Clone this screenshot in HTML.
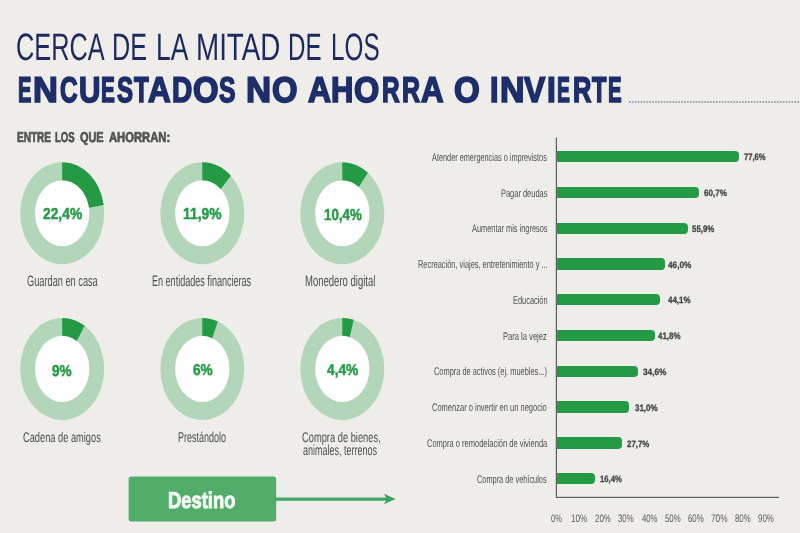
<!DOCTYPE html>
<html lang="es"><head><meta charset="utf-8"><title>Ahorro e inversión</title>
<style>
html,body{margin:0;padding:0}
body{width:800px;height:533px;overflow:hidden;background:#eeede9;font-family:"Liberation Sans",sans-serif;position:relative}
.t{position:absolute;white-space:nowrap;line-height:1;transform-origin:0 0;display:block;text-rendering:geometricPrecision}
#txt{position:absolute;left:0;top:0;width:800px;height:533px;will-change:transform}
.bar{position:absolute;left:556.5px;height:11.4px;background:#259a45;border-radius:0 4px 4px 0}
svg{position:absolute;left:0;top:0}
</style></head><body>
<svg width="800" height="533" viewBox="0 0 800 533">
<line x1="629" y1="102" x2="800" y2="102" stroke="#8388ad" stroke-width="1.7" stroke-dasharray="1.7 1.2"/>
<g transform="translate(62.2,213.2) scale(1,1.2143)"><circle r="42.0" fill="#b3d5b9"/><circle r="27.2" fill="#fdfefd"/><path d="M0.00,-42.00 A42.0,42.0 0 0 1 41.44,-6.83 L26.84,-4.42 A27.2,27.2 0 0 0 0.00,-27.20 Z" fill="#259a45"/></g>
<g transform="translate(202.3,213.2) scale(1,1.2143)"><circle r="42.0" fill="#b3d5b9"/><circle r="27.2" fill="#fdfefd"/><path d="M0.00,-42.00 A42.0,42.0 0 0 1 28.56,-30.80 L18.49,-19.94 A27.2,27.2 0 0 0 0.00,-27.20 Z" fill="#259a45"/></g>
<g transform="translate(342.3,213.2) scale(1,1.2143)"><circle r="42.0" fill="#b3d5b9"/><circle r="27.2" fill="#fdfefd"/><path d="M0.00,-42.00 A42.0,42.0 0 0 1 25.53,-33.35 L16.54,-21.60 A27.2,27.2 0 0 0 0.00,-27.20 Z" fill="#259a45"/></g>
<g transform="translate(62.2,368.9) scale(1,1.2143)"><circle r="42.0" fill="#b3d5b9"/><circle r="27.2" fill="#fdfefd"/><path d="M0.00,-42.00 A42.0,42.0 0 0 1 22.50,-35.46 L14.57,-22.97 A27.2,27.2 0 0 0 0.00,-27.20 Z" fill="#259a45"/></g>
<g transform="translate(202.3,368.9) scale(1,1.2143)"><circle r="42.0" fill="#b3d5b9"/><circle r="27.2" fill="#fdfefd"/><path d="M0.00,-42.00 A42.0,42.0 0 0 1 15.46,-39.05 L10.01,-25.29 A27.2,27.2 0 0 0 0.00,-27.20 Z" fill="#259a45"/></g>
<g transform="translate(342.3,368.9) scale(1,1.2143)"><circle r="42.0" fill="#b3d5b9"/><circle r="27.2" fill="#fdfefd"/><path d="M0.00,-42.00 A42.0,42.0 0 0 1 11.46,-40.41 L7.42,-26.17 A27.2,27.2 0 0 0 0.00,-27.20 Z" fill="#259a45"/></g>
<rect x="128.6" y="476.4" width="147.6" height="45.2" rx="3.2" fill="#53ad6a"/>
<rect x="275" y="497.5" width="112" height="3.3" fill="#45a763"/>
<path d="M384,493.8 L395.5,499 L384,504.3 L386.8,499 Z" fill="#3ba25c"/>
<path d="M556.4,137.5 V497.4 H779" fill="none" stroke="#626260" stroke-width="1.25"/>
</svg>
<div class="bar" style="top:150.95px;width:182.4px"></div>
<div class="bar" style="top:186.73px;width:142.6px"></div>
<div class="bar" style="top:222.51px;width:131.4px"></div>
<div class="bar" style="top:258.29px;width:108.1px"></div>
<div class="bar" style="top:294.07px;width:103.6px"></div>
<div class="bar" style="top:329.85px;width:98.2px"></div>
<div class="bar" style="top:365.63px;width:81.3px"></div>
<div class="bar" style="top:401.41px;width:72.9px"></div>
<div class="bar" style="top:437.19px;width:65.1px"></div>
<div class="bar" style="top:472.97px;width:38.5px"></div>
<div id="txt">
<span class="t" id="t0" style="left:16.28px;top:28.72px;font-size:36.59px;font-weight:400;color:#1c2a5f;transform:scale(0.6920,1.0425)">CERCA</span>
<span class="t" id="t1" style="left:112.25px;top:28.72px;font-size:36.59px;font-weight:400;color:#1c2a5f;transform:scale(0.6886,1.0425)">DE</span>
<span class="t" id="t2" style="left:155.96px;top:28.72px;font-size:36.59px;font-weight:400;color:#1c2a5f;transform:scale(0.7230,1.0425)">LA</span>
<span class="t" id="t3" style="left:195.71px;top:28.70px;font-size:36.59px;font-weight:400;color:#1c2a5f;transform:scale(0.7594,1.0435)">MITAD</span>
<span class="t" id="t4" style="left:288.15px;top:28.70px;font-size:36.59px;font-weight:400;color:#1c2a5f;transform:scale(0.6596,1.0435)">DE</span>
<span class="t" id="t5" style="left:331.00px;top:28.68px;font-size:36.59px;font-weight:400;color:#1c2a5f;transform:scale(0.6635,1.0445)">LOS</span>
<span class="t" id="t6" style="left:17.74px;top:72.81px;font-size:36.59px;font-weight:700;color:#1e2e6a;-webkit-text-stroke:1.7px;transform:scale(0.5493,0.9783)">E</span><span class="t" id="t7" style="left:33.14px;top:72.62px;font-size:36.59px;font-weight:700;color:#1e2e6a;-webkit-text-stroke:1.7px;transform:scale(0.9395,0.9774)">N</span><span class="t" id="t8" style="left:59.58px;top:72.71px;font-size:36.59px;font-weight:700;color:#1e2e6a;-webkit-text-stroke:1.7px;transform:scale(0.6648,0.9779)">C</span><span class="t" id="t9" style="left:78.55px;top:72.71px;font-size:36.59px;font-weight:700;color:#1e2e6a;-webkit-text-stroke:1.7px;transform:scale(0.8102,0.9779)">U</span><span class="t" id="t10" style="left:101.24px;top:72.81px;font-size:36.59px;font-weight:700;color:#1e2e6a;-webkit-text-stroke:1.7px;transform:scale(0.5672,0.9783)">E</span><span class="t" id="t11" style="left:117.29px;top:72.91px;font-size:36.59px;font-weight:700;color:#1e2e6a;-webkit-text-stroke:1.7px;transform:scale(0.6571,0.9787)">S</span><span class="t" id="t12" style="left:134.47px;top:72.71px;font-size:36.59px;font-weight:700;color:#1e2e6a;-webkit-text-stroke:1.7px;transform:scale(0.6586,0.9779)">T</span><span class="t" id="t13" style="left:148.34px;top:72.81px;font-size:36.59px;font-weight:700;color:#1e2e6a;-webkit-text-stroke:1.7px;transform:scale(0.8570,0.9783)">A</span><span class="t" id="t14" style="left:171.90px;top:72.81px;font-size:36.59px;font-weight:700;color:#1e2e6a;-webkit-text-stroke:1.7px;transform:scale(0.7675,0.9783)">D</span><span class="t" id="t15" style="left:192.88px;top:72.62px;font-size:36.59px;font-weight:700;color:#1e2e6a;-webkit-text-stroke:1.7px;transform:scale(0.8979,0.9774)">O</span><span class="t" id="t16" style="left:219.39px;top:73.01px;font-size:36.59px;font-weight:700;color:#1e2e6a;-webkit-text-stroke:1.7px;transform:scale(0.6743,0.9792)">S</span>
<span class="t" id="t17" style="left:245.91px;top:72.71px;font-size:36.59px;font-weight:700;color:#1e2e6a;-webkit-text-stroke:1.7px;transform:scale(0.9513,0.9779)">N</span><span class="t" id="t18" style="left:271.63px;top:73.01px;font-size:36.59px;font-weight:700;color:#1e2e6a;-webkit-text-stroke:1.7px;transform:scale(0.8973,0.9792)">O</span>
<span class="t" id="t19" style="left:307.84px;top:72.81px;font-size:36.59px;font-weight:700;color:#1e2e6a;-webkit-text-stroke:1.7px;transform:scale(0.8710,0.9783)">A</span><span class="t" id="t20" style="left:330.50px;top:72.71px;font-size:36.59px;font-weight:700;color:#1e2e6a;-webkit-text-stroke:1.7px;transform:scale(0.8469,0.9779)">H</span><span class="t" id="t21" style="left:354.18px;top:72.71px;font-size:36.59px;font-weight:700;color:#1e2e6a;-webkit-text-stroke:1.7px;transform:scale(0.8872,0.9779)">O</span><span class="t" id="t22" style="left:381.61px;top:72.91px;font-size:36.59px;font-weight:700;color:#1e2e6a;-webkit-text-stroke:1.7px;transform:scale(0.6679,0.9787)">R</span><span class="t" id="t23" style="left:401.89px;top:72.62px;font-size:36.59px;font-weight:700;color:#1e2e6a;-webkit-text-stroke:1.7px;transform:scale(0.6840,0.9774)">R</span><span class="t" id="t24" style="left:420.51px;top:73.01px;font-size:36.59px;font-weight:700;color:#1e2e6a;-webkit-text-stroke:1.7px;transform:scale(0.8549,0.9792)">A</span>
<span class="t" id="t25" style="left:453.76px;top:73.01px;font-size:36.59px;font-weight:700;color:#1e2e6a;-webkit-text-stroke:1.7px;transform:scale(0.9053,0.9792)">O</span>
<span class="t" id="t26" style="left:489.54px;top:72.91px;font-size:36.59px;font-weight:700;color:#1e2e6a;-webkit-text-stroke:1.7px;transform:scale(0.8337,0.9787)">I</span><span class="t" id="t27" style="left:499.84px;top:72.81px;font-size:36.59px;font-weight:700;color:#1e2e6a;-webkit-text-stroke:1.7px;transform:scale(0.9269,0.9783)">N</span><span class="t" id="t28" style="left:524.15px;top:72.62px;font-size:36.59px;font-weight:700;color:#1e2e6a;-webkit-text-stroke:1.7px;transform:scale(0.8698,0.9774)">V</span><span class="t" id="t29" style="left:547.07px;top:72.81px;font-size:36.59px;font-weight:700;color:#1e2e6a;-webkit-text-stroke:1.7px;transform:scale(0.8633,0.9783)">I</span><span class="t" id="t30" style="left:557.24px;top:72.62px;font-size:36.59px;font-weight:700;color:#1e2e6a;-webkit-text-stroke:1.7px;transform:scale(0.5290,0.9774)">E</span><span class="t" id="t31" style="left:572.55px;top:72.71px;font-size:36.59px;font-weight:700;color:#1e2e6a;-webkit-text-stroke:1.7px;transform:scale(0.6975,0.9779)">R</span><span class="t" id="t32" style="left:592.33px;top:72.81px;font-size:36.59px;font-weight:700;color:#1e2e6a;-webkit-text-stroke:1.7px;transform:scale(0.6446,0.9783)">T</span><span class="t" id="t33" style="left:607.62px;top:72.71px;font-size:36.59px;font-weight:700;color:#1e2e6a;-webkit-text-stroke:1.7px;transform:scale(0.5579,0.9779)">E</span>
<span class="t" id="t34" style="left:16.72px;top:131.15px;font-size:14.39px;font-weight:700;color:#525250;-webkit-text-stroke:0.7px;transform:scale(0.6993,0.9916)">ENTRE</span>
<span class="t" id="t35" style="left:55.44px;top:131.17px;font-size:14.39px;font-weight:700;color:#525250;-webkit-text-stroke:0.7px;transform:scale(0.6655,0.9901)">LOS</span>
<span class="t" id="t36" style="left:79.92px;top:131.16px;font-size:14.39px;font-weight:700;color:#525250;-webkit-text-stroke:0.7px;transform:scale(0.7577,0.9912)">QUE</span>
<span class="t" id="t37" style="left:108.92px;top:131.03px;font-size:14.39px;font-weight:700;color:#525250;-webkit-text-stroke:0.7px;transform:scale(0.7818,0.9913)">AHORRAN:</span>
<span class="t" id="t38" style="left:43.19px;top:206.34px;font-size:16.48px;font-weight:700;color:#259a45;-webkit-text-stroke:0.5px;transform:scale(0.8389,0.9662)">22,4%</span>
<span class="t" id="t39" style="left:183.35px;top:206.37px;font-size:16.48px;font-weight:700;color:#259a45;-webkit-text-stroke:0.5px;transform:scale(0.8419,0.9648)">11,9%</span>
<span class="t" id="t40" style="left:323.98px;top:206.66px;font-size:16.48px;font-weight:700;color:#259a45;-webkit-text-stroke:0.5px;transform:scale(0.8106,0.9694)">10,4%</span>
<span class="t" id="t41" style="left:52.12px;top:362.90px;font-size:16.20px;font-weight:700;color:#259a45;-webkit-text-stroke:0.5px;transform:scale(0.8399,0.9738)">9%</span>
<span class="t" id="t42" style="left:192.70px;top:362.07px;font-size:16.20px;font-weight:700;color:#259a45;-webkit-text-stroke:0.5px;transform:scale(0.8410,0.9747)">6%</span>
<span class="t" id="t43" style="left:327.10px;top:362.32px;font-size:16.20px;font-weight:700;color:#259a45;-webkit-text-stroke:0.5px;transform:scale(0.8480,0.9670)">4,4%</span>
<span class="t" id="t44" style="left:26.87px;top:273.55px;font-size:13.97px;font-weight:400;color:#4f4f4d;transform:scale(0.6602,1.0779)">Guardan en casa</span>
<span class="t" id="t45" style="left:152.28px;top:273.92px;font-size:13.97px;font-weight:400;color:#4f4f4d;transform:scale(0.6481,1.0848)">En entidades financieras</span>
<span class="t" id="t46" style="left:304.66px;top:274.00px;font-size:13.97px;font-weight:400;color:#4f4f4d;transform:scale(0.6816,1.0885)">Monedero digital</span>
<span class="t" id="t47" style="left:22.98px;top:429.70px;font-size:13.13px;font-weight:400;color:#4f4f4d;transform:scale(0.7062,1.0608)">Cadena de amigos</span>
<span class="t" id="t48" style="left:178.36px;top:429.93px;font-size:13.13px;font-weight:400;color:#4f4f4d;transform:scale(0.6845,1.0936)">Prestándolo</span>
<span class="t" id="t49" style="left:301.98px;top:429.70px;font-size:13.13px;font-weight:400;color:#4f4f4d;transform:scale(0.7100,1.0608)">Compra de bienes,</span>
<span class="t" id="t50" style="left:303.25px;top:442.75px;font-size:13.13px;font-weight:400;color:#4f4f4d;transform:scale(0.6852,1.0979)">animales, terrenos</span>
<span class="t" id="t51" style="left:168.18px;top:489.14px;font-size:23.32px;font-weight:700;color:#f6fff6;-webkit-text-stroke:0.9px;transform:scale(0.7882,0.9844)">Destino</span>
<span class="t" id="t52" style="left:432.19px;top:153.11px;font-size:9.92px;font-weight:400;color:#4f4f4d;transform:scale(0.7394,1.1206)">Atender emergencias o imprevistos</span>
<span class="t" id="t53" style="left:743.96px;top:153.04px;font-size:9.36px;font-weight:700;color:#454543;-webkit-text-stroke:0.3px;transform:scale(0.8171,1.0010)">77,6%</span>
<span class="t" id="t54" style="left:500.93px;top:188.87px;font-size:9.92px;font-weight:400;color:#4f4f4d;transform:scale(0.7524,1.1147)">Pagar deudas</span>
<span class="t" id="t55" style="left:703.50px;top:188.86px;font-size:9.36px;font-weight:700;color:#454543;-webkit-text-stroke:0.3px;transform:scale(0.8671,0.9875)">60,7%</span>
<span class="t" id="t56" style="left:471.75px;top:224.40px;font-size:9.92px;font-weight:400;color:#4f4f4d;transform:scale(0.7452,1.1180)">Aumentar mis ingresos</span>
<span class="t" id="t57" style="left:691.80px;top:224.76px;font-size:9.36px;font-weight:700;color:#454543;-webkit-text-stroke:0.3px;transform:scale(0.8430,0.9988)">55,9%</span>
<span class="t" id="t58" style="left:417.60px;top:260.36px;font-size:9.92px;font-weight:400;color:#4f4f4d;transform:scale(0.7474,1.1370)">Recreación, viajes, entretenimiento y ...</span>
<span class="t" id="t59" style="left:667.79px;top:260.80px;font-size:9.36px;font-weight:700;color:#454543;-webkit-text-stroke:0.3px;transform:scale(0.8849,0.9872)">46,0%</span>
<span class="t" id="t60" style="left:512.95px;top:295.51px;font-size:9.92px;font-weight:400;color:#4f4f4d;transform:scale(0.7475,1.1474)">Educación</span>
<span class="t" id="t61" style="left:668.09px;top:296.22px;font-size:9.36px;font-weight:700;color:#454543;-webkit-text-stroke:0.3px;transform:scale(0.8523,0.9875)">44,1%</span>
<span class="t" id="t62" style="left:503.48px;top:331.94px;font-size:9.92px;font-weight:400;color:#4f4f4d;transform:scale(0.7650,1.1235)">Para la vejez</span>
<span class="t" id="t63" style="left:658.35px;top:331.87px;font-size:9.36px;font-weight:700;color:#454543;-webkit-text-stroke:0.3px;transform:scale(0.8537,1.0013)">41,8%</span>
<span class="t" id="t64" style="left:434.02px;top:367.13px;font-size:9.92px;font-weight:400;color:#4f4f4d;transform:scale(0.7483,1.1262)">Compra de activos (ej. muebles...)</span>
<span class="t" id="t65" style="left:642.74px;top:368.30px;font-size:9.36px;font-weight:700;color:#454543;-webkit-text-stroke:0.3px;transform:scale(0.8846,0.9877)">34,6%</span>
<span class="t" id="t66" style="left:432.19px;top:403.36px;font-size:9.92px;font-weight:400;color:#4f4f4d;transform:scale(0.7581,1.1142)">Comenzar o invertir en un negocio</span>
<span class="t" id="t67" style="left:634.82px;top:403.57px;font-size:9.36px;font-weight:700;color:#454543;-webkit-text-stroke:0.3px;transform:scale(0.8537,0.9966)">31,0%</span>
<span class="t" id="t68" style="left:426.72px;top:438.73px;font-size:9.92px;font-weight:400;color:#4f4f4d;transform:scale(0.7582,1.1187)">Compra o remodelación de vivienda</span>
<span class="t" id="t69" style="left:626.51px;top:439.62px;font-size:9.36px;font-weight:700;color:#454543;-webkit-text-stroke:0.3px;transform:scale(0.8422,0.9887)">27,7%</span>
<span class="t" id="t70" style="left:476.95px;top:474.53px;font-size:9.92px;font-weight:400;color:#4f4f4d;transform:scale(0.7437,1.1258)">Compra de vehículos</span>
<span class="t" id="t71" style="left:600.30px;top:475.35px;font-size:9.36px;font-weight:700;color:#454543;-webkit-text-stroke:0.3px;transform:scale(0.8277,0.9896)">16,4%</span>
<span class="t" id="t72" style="left:550.75px;top:514.84px;font-size:10.20px;font-weight:400;color:#5c5c5a;transform:scale(0.7348,1.0616)">0%</span>
<span class="t" id="t73" style="left:570.88px;top:515.12px;font-size:10.20px;font-weight:400;color:#5c5c5a;transform:scale(0.8006,1.0712)">10%</span>
<span class="t" id="t74" style="left:595.07px;top:514.75px;font-size:10.20px;font-weight:400;color:#5c5c5a;transform:scale(0.7794,1.0640)">20%</span>
<span class="t" id="t75" style="left:618.02px;top:514.23px;font-size:10.20px;font-weight:400;color:#5c5c5a;transform:scale(0.7678,1.0785)">30%</span>
<span class="t" id="t76" style="left:641.76px;top:514.94px;font-size:10.20px;font-weight:400;color:#5c5c5a;transform:scale(0.7575,1.0710)">40%</span>
<span class="t" id="t77" style="left:665.06px;top:514.75px;font-size:10.20px;font-weight:400;color:#5c5c5a;transform:scale(0.7683,1.0628)">50%</span>
<span class="t" id="t78" style="left:688.23px;top:514.22px;font-size:10.20px;font-weight:400;color:#5c5c5a;transform:scale(0.7701,1.0802)">60%</span>
<span class="t" id="t79" style="left:711.19px;top:514.02px;font-size:10.20px;font-weight:400;color:#5c5c5a;transform:scale(0.8086,1.0735)">70%</span>
<span class="t" id="t80" style="left:735.01px;top:514.22px;font-size:10.20px;font-weight:400;color:#5c5c5a;transform:scale(0.7665,1.0810)">80%</span>
<span class="t" id="t81" style="left:758.35px;top:514.23px;font-size:10.20px;font-weight:400;color:#5c5c5a;transform:scale(0.7770,1.0898)">90%</span>
</div>
</body></html>
